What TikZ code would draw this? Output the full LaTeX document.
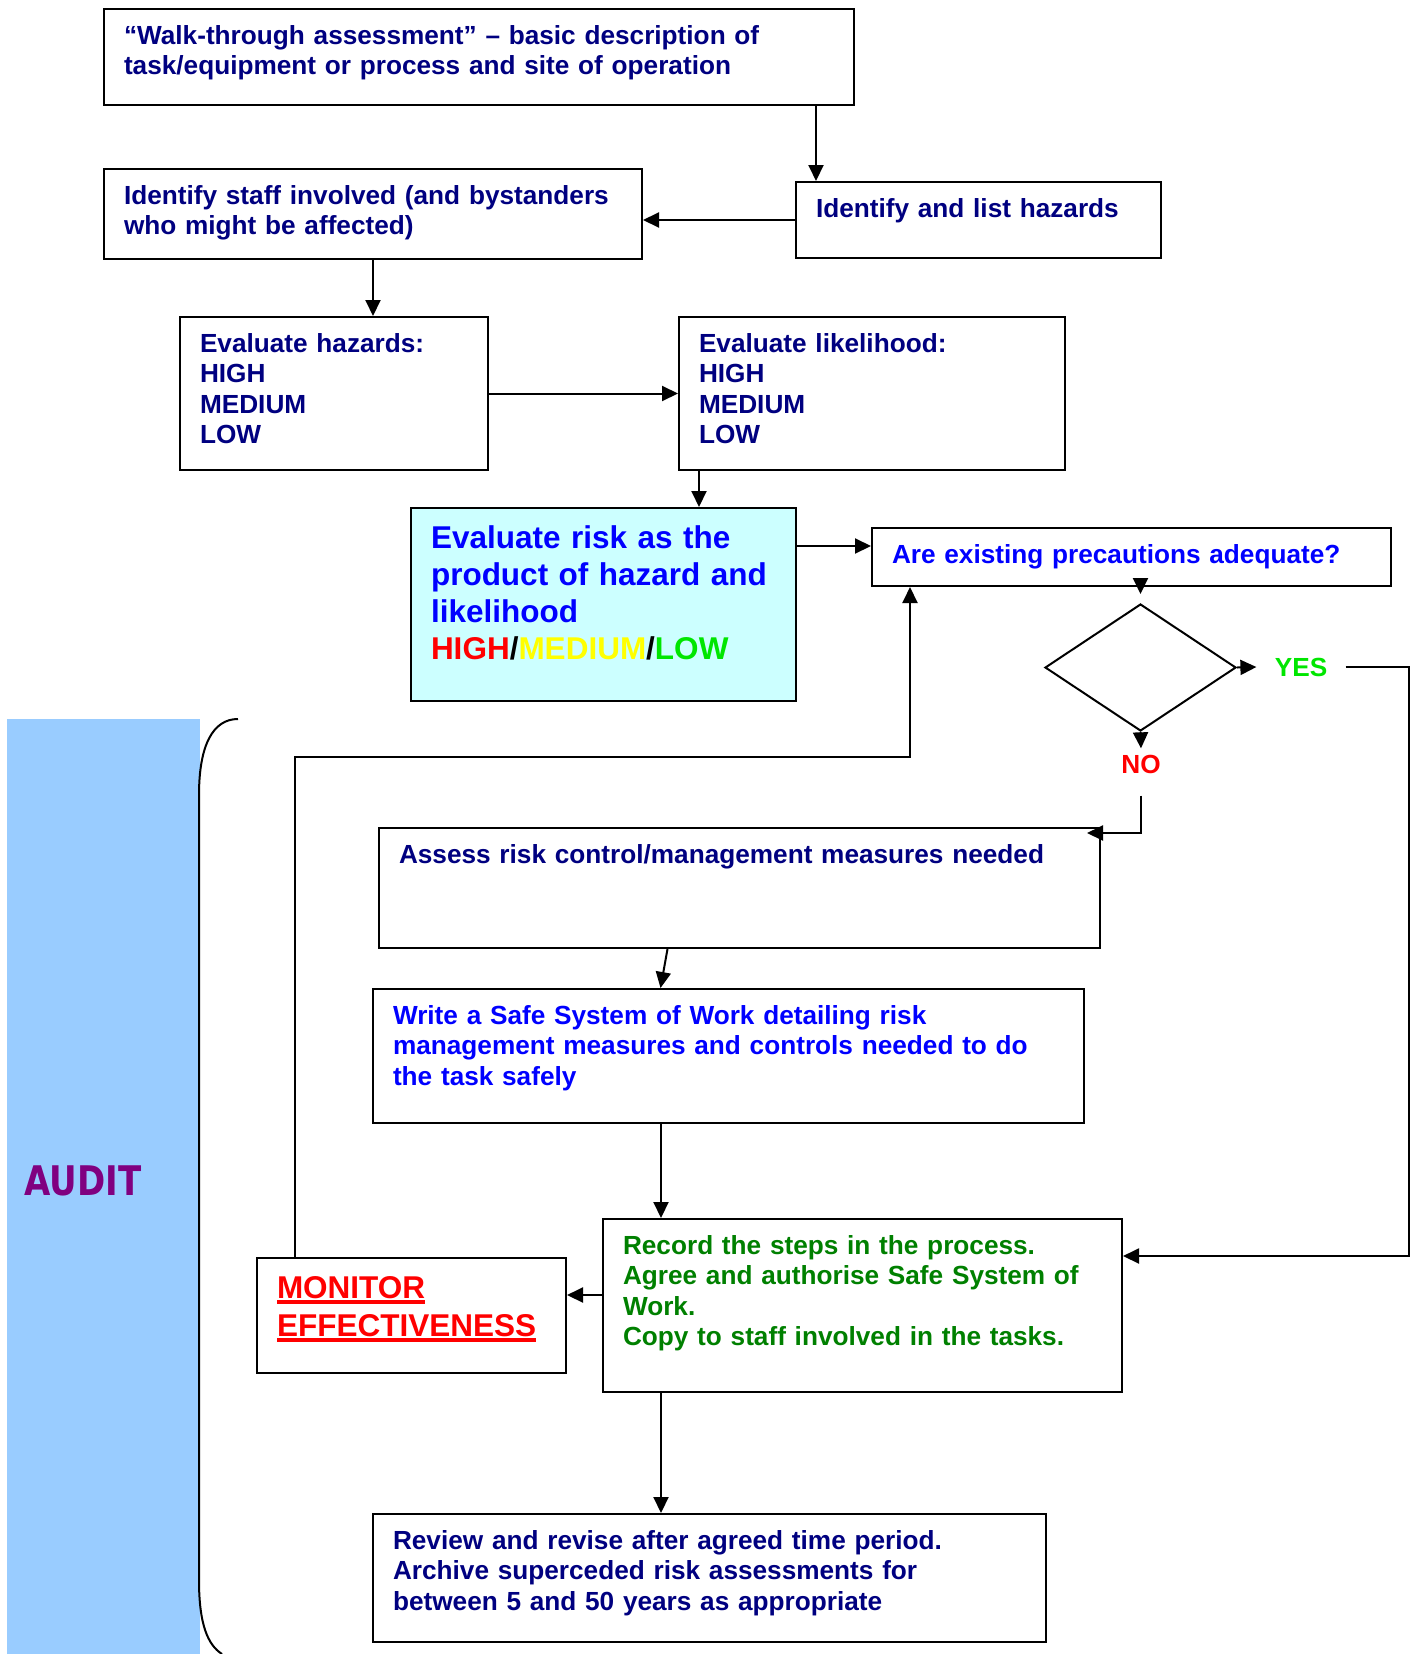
\documentclass[tikz,border=0pt]{standalone}
\usepackage{graphicx}
\usepackage{fontspec}
\setmainfont{Liberation Sans}
\newfontfamily\auditfont{DejaVu Sans}
\usepackage{tikz}
\usetikzlibrary{shapes.geometric,arrows.meta}
\definecolor{navytext}{RGB}{0,0,128}
\definecolor{bluetext}{RGB}{0,0,255}
\definecolor{greentext}{RGB}{0,128,0}
\definecolor{redtext}{RGB}{255,0,0}
\definecolor{yellowtext}{RGB}{255,255,0}
\definecolor{limetext}{RGB}{0,230,0}
\definecolor{riskfill}{RGB}{204,255,255}
\definecolor{auditband}{RGB}{153,204,255}
\definecolor{audittext}{RGB}{128,0,128}
\def\smallsize{\fontsize{13.1pt}{15.3pt}\selectfont\bfseries}
\def\largesize{\fontsize{15.75pt}{18.5pt}\selectfont\bfseries}
\newcommand{\redul}[1]{\leavevmode\setbox0\hbox{#1}\rlap{\rule[-2.8pt]{\wd0}{1.6pt}}\box0}

\begin{document}
\begin{tikzpicture}[x=0.5pt,y=-0.5pt,>={Triangle[length=8pt,width=7.5pt]}]
		\tikzstyle{box}=[draw,line width=1pt,anchor=north west,align=left,inner xsep=10pt,inner ysep=7.5pt,text height=10pt,font=\smallsize,text=navytext]
		\tikzstyle{big box}=[box,text height=12.5pt,font=\largesize]
		\tikzstyle{answer}=[font=\smallsize,inner sep=3pt]
		\tikzstyle{flow}=[->,line width=1pt]
		\useasboundingbox (0,0) rectangle (1415,1654);
		
		% Draw the audit band and its bracket
		\fill[auditband] (7,719) rectangle (200,1654);
		\node[font=\auditfont\bfseries\fontsize{17pt}{20pt}\selectfont,text=audittext] (audit) at (83,1181) {\scalebox{1}[1.2]{AUDIT}};
		\draw[line width=1pt] (238,719) .. controls (213,719) and (199,745) .. (199,795)
			-- (199,1580) .. controls (199,1625) and (208,1645) .. (222,1654);
		
		% Draw the steps of the assessment
		\node[box,text width=354.75pt,text depth=23pt] (walk) at (103,8)
			{“Walk-through assessment” – basic description of\\task/equipment or process and site of operation};
		\node[box,text width=162.5pt,text depth=13pt] (list) at (795,181) {Identify and list hazards};
		\node[box,text width=249pt,text depth=20pt] (staff) at (103,168)
			{Identify staff involved (and bystanders\\who might be affected)};
		\node[box,text width=134pt,text depth=51.5pt] (hazard) at (179,316)
			{Evaluate hazards:\\HIGH\\MEDIUM\\LOW};
		\node[box,text width=173pt,text depth=51.5pt] (likelihood) at (678,316)
			{Evaluate likelihood:\\HIGH\\MEDIUM\\LOW};
		\node[big box,fill=riskfill,text=bluetext,text width=172.5pt,text depth=69pt] (risk) at (410,507)
			{Evaluate risk as the\\product of hazard and\\likelihood\\\textcolor{redtext}{HIGH}\textcolor{black}{/}\textcolor{yellowtext}{MEDIUM}\textcolor{black}{/}\textcolor{limetext}{LOW}};
		\node[box,text=bluetext,text width=239.5pt,text depth=4pt] (precaution) at (871,527)
			{Are existing precautions adequate?};
		
		% Draw the decision
		\node[draw,diamond,line width=1pt,inner sep=0pt,minimum width=95.5pt,minimum height=63.5pt] (check) at (1140.5,667.5) {};
		\node[answer,text=limetext,inner xsep=9pt] (yes) at (1301,667) {YES};
		\node[answer,text=redtext] (no) at (1141,764) {NO};
		
		% Draw the control steps
		\node[box,text width=340.5pt,text depth=35pt] (assess) at (378,827)
			{Assess risk control/management measures needed};
		\node[box,text=bluetext,text width=335.5pt,text depth=42pt] (ssw) at (372,988)
			{Write a Safe System of Work detailing risk\\management measures and controls needed to do\\the task safely};
		\node[box,text=greentext,text width=239.5pt,text depth=61.5pt] (record) at (602,1218)
			{Record the steps in the process.\\Agree and authorise Safe System of\\Work.\\Copy to staff involved in the tasks.};
		\node[big box,font=\fontsize{15.75pt}{19pt}\selectfont\bfseries,text=redtext,text width=134.5pt,text depth=30pt] (monitor) at (256,1257)
			{\redul{MONITOR}\\\redul{EFFECTIVENESS}};
		\node[box,text width=316.5pt,text depth=39pt] (review) at (372,1513)
			{Review and revise after agreed time period.\\Archive superceded risk assessments for\\between 5 and 50 years as appropriate};
		
		% Connect the steps
		\coordinate (yes-turn) at (1409,667);
		\coordinate (loop) at (0,757);
		\draw[flow] ([xshift=-19.25pt]walk.south east) -- ([xshift=-19.25pt]walk.south east |- list.north);
		\draw[flow] (list.west) -- (list.west -| staff.east);
		\draw[flow] (staff.south) -- (staff.south |- hazard.north);
		\draw[flow] (hazard.east) -- (hazard.east -| likelihood.west);
		\draw[flow] ([xshift=10.5pt]likelihood.south west) -- ([xshift=10.5pt]likelihood.south west |- risk.north);
		\draw[flow] ([yshift=-19.5pt]risk.north east) -- ([yshift=-19.5pt]risk.north east -| precaution.west);
		\draw[flow,shorten >=4.5pt] (precaution.south -| check.north) -- (check.north);
		\draw[flow] (check.east) -- (yes.west);
		\draw[flow] (check.south) -- (no.north);
		\draw[flow] (yes.east) -- (yes-turn) |- ([yshift=-19pt]record.north east);
		\draw[flow] ([yshift=-8pt]no.south) |- ([xshift=-7pt,yshift=-3pt]assess.north east);
		\draw[flow] ([xshift=-36pt]assess.south) -- ([xshift=-34pt]ssw.north);
		\draw[flow] ([xshift=29.5pt]record.north west |- ssw.south) -- ([xshift=29.5pt]record.north west);
		\draw[flow] ([xshift=29.5pt]record.south west) -- ([xshift=29.5pt]record.south west |- review.north);
		\draw[flow] ([yshift=-38.5pt]record.north west) -- ([yshift=-38.5pt]record.north west -| monitor.east);
		\draw[flow] ([xshift=19.5pt]monitor.north west) -- ([xshift=19.5pt]monitor.north west |- loop)
			-| ([xshift=19.5pt]precaution.south west);
	\end{tikzpicture}
\end{document}
